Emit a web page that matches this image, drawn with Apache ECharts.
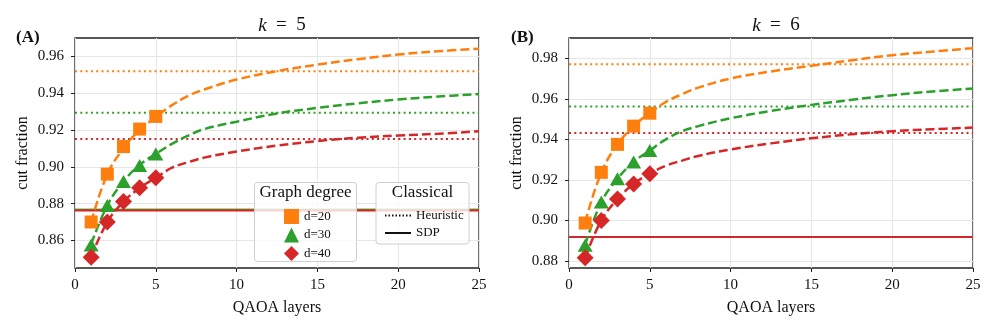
<!DOCTYPE html>
<html>
<head>
<meta charset="utf-8">
<script src="https://cdn.jsdelivr.net/npm/echarts@6/dist/echarts.min.js"></script>
<style>
  html, body { margin: 0; padding: 0; background: #fff; }
  #chart { width: 997px; height: 332px; }
</style>
</head>
<body>
<div id="chart"></div>
<script>
// QAOA layers for the measured points, and x positions for the fitted curves
const layers = [1, 2, 3, 4, 5];
const fitX = [1, 2, 3, 4, 5, 6, 7, 8, 10, 12.5, 15, 17.5, 20, 22.5, 25];
const degrees = ['d=20', 'd=30', 'd=40'];

// (A) k = 5
const qaoaA20 = [0.870, 0.896, 0.911, 0.9205, 0.9274];
const qaoaA30 = [0.8575, 0.879, 0.892, 0.9007, 0.9069];
const qaoaA40 = [0.8508, 0.870, 0.8812, 0.8886, 0.894];
const fitA20 = [0.870, 0.896, 0.910, 0.920, 0.927, 0.9335, 0.9385, 0.942, 0.9474, 0.952, 0.9555, 0.9585, 0.961, 0.9628, 0.9642];
const fitA30 = [0.858, 0.879, 0.892, 0.901, 0.907, 0.9125, 0.917, 0.9205, 0.9245, 0.929, 0.932, 0.9345, 0.9366, 0.9382, 0.9396];
const fitA40 = [0.851, 0.870, 0.881, 0.8885, 0.894, 0.8995, 0.9025, 0.905, 0.9083, 0.9115, 0.914, 0.9158, 0.917, 0.918, 0.9193];
const heurA = [0.9519, 0.9294, 0.9151];
const sdpA = [0.8766, 0.8767, 0.8763];

// (B) k = 6
const qaoaB20 = [0.8987, 0.9237, 0.9375, 0.9465, 0.9529];
const qaoaB30 = [0.8877, 0.9091, 0.9206, 0.9288, 0.9345];
const qaoaB40 = [0.8815, 0.8999, 0.9105, 0.9179, 0.923];
const fitB20 = [0.899, 0.9237, 0.9375, 0.9465, 0.953, 0.9585, 0.9623, 0.9655, 0.970, 0.9735, 0.9763, 0.979, 0.9815, 0.9833, 0.985];
const fitB30 = [0.888, 0.909, 0.9206, 0.9288, 0.9345, 0.940, 0.944, 0.9465, 0.9504, 0.954, 0.957, 0.9595, 0.9618, 0.9636, 0.9651];
const fitB40 = [0.8815, 0.900, 0.9105, 0.918, 0.923, 0.927, 0.9295, 0.9318, 0.935, 0.938, 0.9405, 0.9425, 0.944, 0.945, 0.9458];
const heurB = [0.9770, 0.9562, 0.9431];
const sdpB = [0.8918, 0.8918, 0.8918];

const yTicksA = [0.86, 0.88, 0.90, 0.92, 0.94, 0.96];
const yTicksB = [0.88, 0.90, 0.92, 0.94, 0.96, 0.98];

const COLORS = ['#ff7f0e', '#2ca02c', '#d62728'];
const SYMBOLS = ['rect', 'triangle', 'diamond'];
const SYMBOL_SIZES = [13, [15, 13], 17];
const FONT = 'Liberation Serif';
const INK = '#111';

const zip = (xs, ys) => xs.map((x, i) => [x, ys[i]]);

function panelSeries(idx, qaoa, fits, heur, sdp) {
  const out = [];
  fits.forEach((f, i) => {
    out.push({
      type: 'line', name: 'fit' + idx + i, xAxisIndex: idx, yAxisIndex: idx,
      data: zip(fitX, f), smooth: 0.4, showSymbol: false, symbol: 'none',
      lineStyle: { color: COLORS[i], width: 2.5, type: [9, 4] }, z: 3, silent: true
    });
  });
  heur.forEach((h, i) => {
    out.push({
      type: 'line', name: 'heur' + idx + i, xAxisIndex: idx, yAxisIndex: idx,
      data: [[0, h], [25, h]], symbol: 'none',
      lineStyle: { color: COLORS[i], width: 2, type: [2, 3.3] }, z: 2, silent: true
    });
  });
  sdp.forEach((s, i) => {
    out.push({
      type: 'line', name: 'sdp' + idx + i, xAxisIndex: idx, yAxisIndex: idx,
      data: [[0, s], [25, s]], symbol: 'none',
      lineStyle: { color: COLORS[i], width: 2 }, z: 2, silent: true
    });
  });
  qaoa.forEach((q, i) => {
    out.push({
      type: 'scatter', name: degrees[i], xAxisIndex: idx, yAxisIndex: idx,
      data: zip(layers, q), symbol: SYMBOLS[i], symbolSize: SYMBOL_SIZES[i],
      itemStyle: { color: COLORS[i], opacity: 1 }, z: 5
    });
  });
  return out;
}

function xAxisFor(idx) {
  return {
    type: 'value', gridIndex: idx, min: 0, max: 25, interval: 5,
    name: 'QAOA layers', nameLocation: 'middle', nameGap: 32,
    nameTextStyle: { fontFamily: FONT, fontSize: 16, color: INK },
    axisLine: { show: false },
    axisTick: { show: true, inside: false, length: 4, lineStyle: { color: '#222', width: 1 } },
    axisLabel: { fontFamily: FONT, fontSize: 15, color: INK, margin: 10 },
    splitLine: { show: true, lineStyle: { color: '#e6e6e6', width: 1 } }
  };
}

function yAxisFor(idx, min, max, ticks) {
  return {
    type: 'value', gridIndex: idx, min: min, max: max,
    name: 'cut fraction', nameLocation: 'middle', nameGap: 44,
    nameTextStyle: { fontFamily: FONT, fontSize: 16, color: INK },
    axisLine: { show: false },
    axisTick: { show: true, inside: false, length: 4, customValues: ticks, lineStyle: { color: '#222', width: 1 } },
    axisLabel: { fontFamily: FONT, fontSize: 15, color: INK, margin: 11, customValues: ticks,
      formatter: v => v.toFixed(2) },
    splitLine: { show: true, customValues: ticks, lineStyle: { color: '#e6e6e6', width: 1 } }
  };
}

const chart = echarts.init(document.getElementById('chart'));

const titleStyle = {
  fontFamily: FONT, fontSize: 19, fontWeight: 'normal', color: INK,
  rich: { i: { fontFamily: FONT, fontSize: 19, fontStyle: 'italic', color: INK } }
};

const option = {
  animation: false,
  backgroundColor: '#fff',
  grid: [
    { left: 75, top: 38, width: 404, height: 230, show: true, borderColor: '#222', borderWidth: 1.3, backgroundColor: 'transparent' },
    { left: 569, top: 38, width: 404, height: 230, show: true, borderColor: '#222', borderWidth: 1.3, backgroundColor: 'transparent' }
  ],
  title: [
    { text: '{i|k}  =  5', left: 277, top: 11, textAlign: 'center', textStyle: titleStyle },
    { text: '{i|k}  =  6', left: 771, top: 11, textAlign: 'center', textStyle: titleStyle },
    { text: '(A)', left: 11, top: 24, textStyle: { fontFamily: FONT, fontSize: 17, fontWeight: 'bold', color: INK } },
    { text: '(B)', left: 506, top: 24, textStyle: { fontFamily: FONT, fontSize: 17, fontWeight: 'bold', color: INK } }
  ],
  xAxis: [xAxisFor(0), xAxisFor(1)],
  yAxis: [yAxisFor(0, 0.845, 0.970, yTicksA), yAxisFor(1, 0.8765, 0.990, yTicksB)],
  legend: [
    {
      orient: 'vertical', left: 279, top: 204, itemWidth: 15, itemHeight: 15, itemGap: 3.5, itemTextGap: 15,
      data: degrees.map((d, i) => ({ name: d, icon: SYMBOLS[i] })),
      textStyle: { fontFamily: FONT, fontSize: 13, color: INK },
      z: 12
    },
    {
      orient: 'vertical', left: 379, top: 204, itemWidth: 26, itemHeight: 14, itemGap: 4.5, itemTextGap: 10,
      data: ['Heuristic', 'SDP'],
      textStyle: { fontFamily: FONT, fontSize: 13, color: INK },
      z: 12
    }
  ],
  graphic: [
    { type: 'rect', z: 10, shape: { x: 254.5, y: 182.5, width: 102, height: 79, r: 3 },
      style: { fill: 'rgba(255,255,255,0.8)', stroke: '#cfcfcf', lineWidth: 1 } },
    { type: 'text', z: 11, x: 305.5, y: 193,
      style: { text: 'Graph degree', font: '17px "Liberation Serif"', fill: INK, align: 'center', verticalAlign: 'middle' } },
    { type: 'rect', z: 10, shape: { x: 376, y: 182.5, width: 93, height: 61.5, r: 3 },
      style: { fill: 'rgba(255,255,255,0.8)', stroke: '#cfcfcf', lineWidth: 1 } },
    { type: 'text', z: 11, x: 422.5, y: 193,
      style: { text: 'Classical', font: '17px "Liberation Serif"', fill: INK, align: 'center', verticalAlign: 'middle' } }
  ],
  series: [
    ...panelSeries(0, [qaoaA20, qaoaA30, qaoaA40], [fitA20, fitA30, fitA40], heurA, sdpA),
    ...panelSeries(1, [qaoaB20, qaoaB30, qaoaB40], [fitB20, fitB30, fitB40], heurB, sdpB),
    // entries for the "Classical" legend only; the transparent item style hides the legend dot
    { type: 'line', name: 'Heuristic', xAxisIndex: 0, yAxisIndex: 0, data: [], symbol: 'none',
      itemStyle: { color: 'rgba(0,0,0,0)', borderWidth: 0 }, lineStyle: { color: INK, width: 1.5, type: [1.5, 2] } },
    { type: 'line', name: 'SDP', xAxisIndex: 0, yAxisIndex: 0, data: [], symbol: 'none',
      itemStyle: { color: 'rgba(0,0,0,0)', borderWidth: 0 }, lineStyle: { color: INK, width: 2 } }
  ]
};

chart.setOption(option);
</script>
</body>
</html>
